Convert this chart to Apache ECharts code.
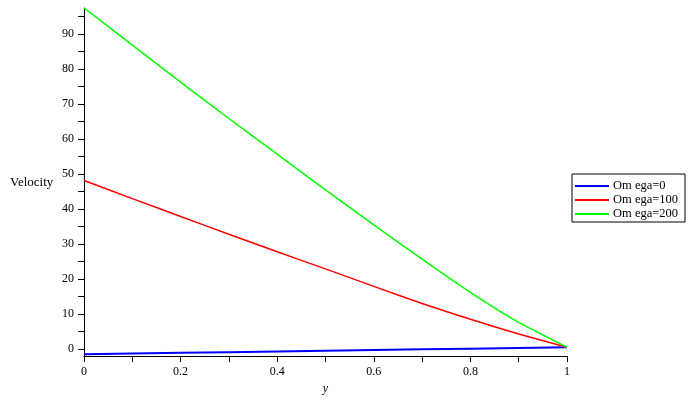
<!DOCTYPE html>
<html>
<head>
<meta charset="utf-8">
<script src="https://cdn.jsdelivr.net/npm/echarts@6/dist/echarts.min.js"></script>
<style>
  html, body { margin: 0; padding: 0; background: #fff; }
  #chart { width: 690px; height: 400px; }
</style>
</head>
<body>
<div id="chart"></div>
<script>
// values
const yPos = [0, 0.1, 0.2, 0.3, 0.4, 0.5, 0.6, 0.7, 0.8, 0.9, 1];
const omega0 = [-1.5, -1.3, -1.1, -0.9, -0.7, -0.5, -0.3, -0.1, 0.1, 0.3, 0.5];
const omega100 = [48.2, 43.0, 37.9, 32.8, 27.8, 22.9, 17.9, 13.0, 8.5, 4.3, 0.5];
const omega200 = [97.5, 86.9, 76.3, 65.9, 55.7, 45.5, 35.5, 25.7, 16.2, 7.6, 0.5];

const xTicks = [0, 0.1, 0.2, 0.3, 0.4, 0.5, 0.6, 0.7, 0.8, 0.9, 1];
const xLabels = [0, 0.2, 0.4, 0.6, 0.8, 1];
const yTicks = [0, 5, 10, 15, 20, 25, 30, 35, 40, 45, 50, 55, 60, 65, 70, 75, 80, 85, 90, 95];
const yLabels = [0, 10, 20, 30, 40, 50, 60, 70, 80, 90];

const seriesNames = ["Om ega=0", "Om ega=100", "Om ega=200"];

function pairs(ys) {
  return yPos.map((x, i) => [x, ys[i]]);
}

const chart = echarts.init(document.getElementById("chart"));
const font = "'Liberation Serif', 'Times New Roman', serif";

const option = {
  animation: false,
  textStyle: { fontFamily: font },
  grid: { left: 84, right: 123, top: 8, bottom: 41 },
  legend: {
    orient: "vertical",
    left: 572,
    top: 174,
    padding: [5, 7, 1, 3],
    borderColor: "#000",
    borderWidth: 1,
    itemWidth: 34,
    itemHeight: 2,
    itemGap: 0,
    icon: "rect",
    selectedMode: false,
    textStyle: { fontFamily: font, fontSize: 12.5, color: "#000", lineHeight: 14, padding: [0, 0, 0, -1] },
    data: seriesNames,
  },
  xAxis: {
    type: "value",
    min: 0,
    max: 1,
    name: "y",
    nameLocation: "middle",
    nameGap: 27,
    nameTextStyle: { fontFamily: font, fontSize: 12, fontStyle: "italic", color: "#000" },
    axisLine: { onZero: false, lineStyle: { color: "#000", width: 1 } },
    axisTick: { customValues: xTicks, length: 6, lineStyle: { color: "#000" } },
    axisLabel: { customValues: xLabels, color: "#000", fontFamily: font, fontSize: 12, margin: 10 },
    splitLine: { show: false },
  },
  yAxis: {
    type: "value",
    min: -2,
    max: 97.5,
    axisLine: { show: true, lineStyle: { color: "#000", width: 1 } },
    axisTick: { show: true, customValues: yTicks, length: 6, lineStyle: { color: "#000" } },
    axisLabel: { customValues: yLabels, color: "#000", fontFamily: font, fontSize: 12, margin: 10 },
    splitLine: { show: false },
  },
  graphic: [
    {
      type: "text",
      left: 10,
      top: 176,
      style: { text: "Velocity", font: "13px " + font, fill: "#000" },
    },
  ],
  series: [
    {
      name: seriesNames[0],
      type: "line",
      data: pairs(omega0),
      showSymbol: false,
      color: "#0000ff",
      lineStyle: { width: 2 },
    },
    {
      name: seriesNames[1],
      type: "line",
      data: pairs(omega100),
      showSymbol: false,
      smooth: 0.15,
      color: "#ff0000",
      lineStyle: { width: 1.5 },
    },
    {
      name: seriesNames[2],
      type: "line",
      data: pairs(omega200),
      showSymbol: false,
      smooth: 0.15,
      color: "#00ff00",
      lineStyle: { width: 1.5 },
    },
  ],
};

chart.setOption(option);
</script>
</body>
</html>
